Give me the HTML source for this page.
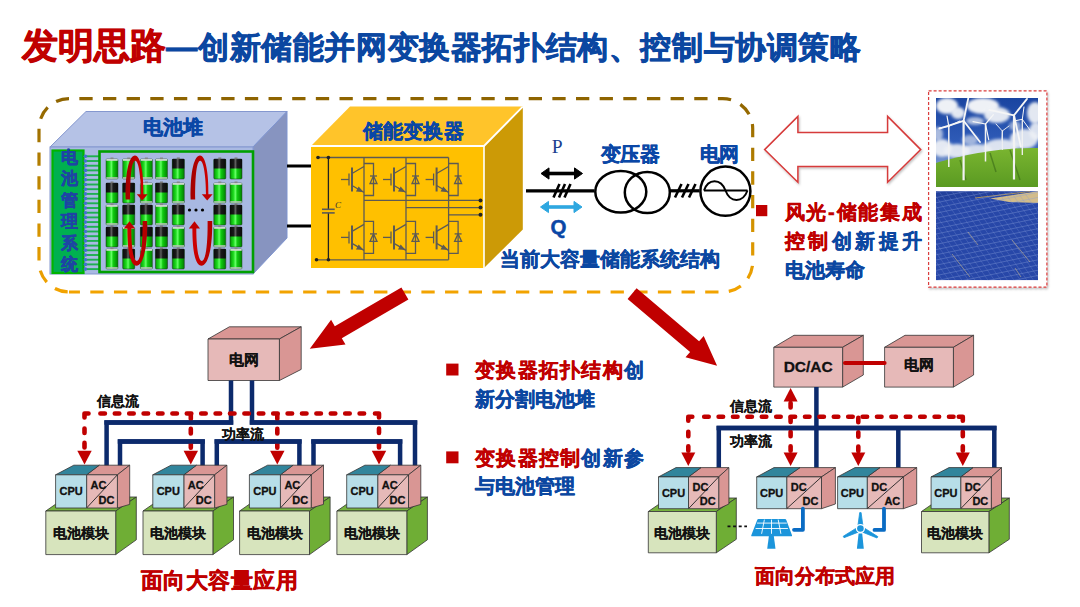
<!DOCTYPE html>
<html><head><meta charset="utf-8"><style>
html,body{margin:0;padding:0;background:#fff;width:1080px;height:607px;overflow:hidden}
svg{display:block;font-family:'Liberation Sans',sans-serif}
</style></head><body>
<svg width="1080" height="607" viewBox="0 0 1080 607">

<defs>
<linearGradient id="dashg" x1="0" y1="0" x2="0" y2="1">
 <stop offset="0" stop-color="#8E6400"/><stop offset="0.5" stop-color="#C48A00"/><stop offset="1" stop-color="#F2A300"/>
</linearGradient>
<linearGradient id="redg" x1="0" y1="0" x2="1" y2="0">
 <stop offset="0" stop-color="#A00000"/><stop offset="1" stop-color="#D00000"/>
</linearGradient>
<linearGradient id="redg2" x1="0" y1="0" x2="1" y2="0">
 <stop offset="0" stop-color="#D00000"/><stop offset="1" stop-color="#B00000"/>
</linearGradient>
<linearGradient id="cellgreen" x1="0" y1="0" x2="1" y2="0">
 <stop offset="0" stop-color="#009A00"/><stop offset="0.3" stop-color="#22DD22"/><stop offset="0.45" stop-color="#66FF66"/><stop offset="0.6" stop-color="#11CC11"/><stop offset="1" stop-color="#008000"/>
</linearGradient>
<linearGradient id="cellblack" x1="0" y1="0" x2="1" y2="0">
 <stop offset="0" stop-color="#0A0A0A"/><stop offset="0.3" stop-color="#1A1A1A"/><stop offset="0.45" stop-color="#606060"/><stop offset="0.6" stop-color="#1A1A1A"/><stop offset="1" stop-color="#0A0A0A"/>
</linearGradient>
<g id="cellG">
 <rect x="0" y="1" width="12" height="20" rx="1" fill="url(#cellgreen)" stroke="#2A4A2A" stroke-width="0.5"/>
 <rect x="0.3" y="1" width="11.4" height="1.8" fill="#D0D8D0"/>
 <rect x="0.3" y="19.2" width="11.4" height="1.6" fill="#B8C4B8"/>
 <rect x="4.5" y="-0.5" width="3" height="1.6" fill="#888"/>
</g>
<g id="cellB">
 <rect x="0" y="1" width="12" height="20" rx="1" fill="url(#cellgreen)" stroke="#1A2A1A" stroke-width="0.5"/>
 <rect x="0" y="1" width="12" height="9.5" fill="url(#cellblack)"/>
 <rect x="4.5" y="-0.5" width="3" height="1.6" fill="#777"/>
</g>
<linearGradient id="skyg" x1="0" y1="0" x2="0" y2="1">
 <stop offset="0" stop-color="#1A44A0"/><stop offset="0.5" stop-color="#2F5CB8"/><stop offset="0.8" stop-color="#8AA4D0"/><stop offset="1" stop-color="#C8D2E2"/>
</linearGradient>
<linearGradient id="grassg" x1="0" y1="0" x2="0" y2="1">
 <stop offset="0" stop-color="#7AB530"/><stop offset="1" stop-color="#5A9A22"/>
</linearGradient>
<clipPath id="clipw"><rect x="936" y="98" width="102" height="89"/></clipPath>
<clipPath id="clips"><rect x="936" y="191.3" width="102" height="89"/></clipPath>
<filter id="blur1" x="-50%" y="-50%" width="200%" height="200%"><feGaussianBlur stdDeviation="1.5"/></filter>
<filter id="blur2" x="-50%" y="-50%" width="200%" height="200%"><feGaussianBlur stdDeviation="2.5"/></filter>
<filter id="shadow" x="-10%" y="-10%" width="130%" height="130%"><feDropShadow dx="1" dy="1.5" stdDeviation="1" flood-color="#000" flood-opacity="0.25"/></filter>
</defs>

<text x="21.5" y="57.5" font-size="36" fill="#C00000" font-weight="bold" text-anchor="start" stroke="#C00000" stroke-width="0.86" stroke-linejoin="round" >发明思路</text>
<text x="166" y="57.5" font-size="31.4" fill="#0B47A1" font-weight="bold" text-anchor="start" stroke="#0B47A1" stroke-width="0.75" stroke-linejoin="round" textLength="695" lengthAdjust="spacing">—创新储能并网变换器拓扑结构、控制与协调策略</text>
<path d="M69,98.6 H722.7 A30,30 0 0 1 752.7,128.6 V262 A30,30 0 0 1 722.7,292 H69" fill="none" stroke="url(#dashg)" stroke-width="3.2" stroke-dasharray="13.3 10.35" stroke-dashoffset="13.3"/>
<path d="M69,98.6 A30,30 0 0 0 39,128.6 V262 A30,30 0 0 0 69,292" fill="none" stroke="url(#dashg)" stroke-width="3.2" stroke-dasharray="13.3 10.35" stroke-dashoffset="0"/>
<polygon points="50.0,147.0 86.0,111.5 287.0,111.5 253.0,147.0" fill="#B5C2E6" stroke="#8497CF" stroke-width="1" />
<polygon points="253.0,147.0 287.0,111.5 287.0,238.0 253.0,274.0" fill="#8794C0" stroke="#7F95D0" stroke-width="1" />
<rect x="50" y="147" width="203" height="127" fill="#A9B9E3" stroke="#8497CF" stroke-width="1"/>
<text x="143" y="134" font-size="20" fill="#0A47A6" font-weight="bold" text-anchor="start" stroke="#0A47A6" stroke-width="0.48" stroke-linejoin="round" >电池堆</text>
<rect x="52.5" y="150.5" width="31" height="122.5" fill="#00B050" stroke="#00B400" stroke-width="2.2"/>
<text x="69.3" y="163.0" font-size="17" fill="#1E44A4" font-weight="bold" text-anchor="middle" stroke="#1E44A4" stroke-width="0.55" stroke-linejoin="round" >电</text>
<text x="69.3" y="184.4" font-size="17" fill="#1E44A4" font-weight="bold" text-anchor="middle" stroke="#1E44A4" stroke-width="0.55" stroke-linejoin="round" >池</text>
<text x="69.3" y="205.8" font-size="17" fill="#1E44A4" font-weight="bold" text-anchor="middle" stroke="#1E44A4" stroke-width="0.55" stroke-linejoin="round" >管</text>
<text x="69.3" y="227.2" font-size="17" fill="#1E44A4" font-weight="bold" text-anchor="middle" stroke="#1E44A4" stroke-width="0.55" stroke-linejoin="round" >理</text>
<text x="69.3" y="248.6" font-size="17" fill="#1E44A4" font-weight="bold" text-anchor="middle" stroke="#1E44A4" stroke-width="0.55" stroke-linejoin="round" >系</text>
<text x="69.3" y="270.0" font-size="17" fill="#1E44A4" font-weight="bold" text-anchor="middle" stroke="#1E44A4" stroke-width="0.55" stroke-linejoin="round" >统</text>
<line x1="85.4" y1="156.3" x2="100.4" y2="156.3" stroke="#1DB050" stroke-width="1.9"/>
<circle cx="85.4" cy="156.3" r="1.8" fill="#4470D0"/>
<circle cx="100.4" cy="156.3" r="1.8" fill="#4470D0"/>
<line x1="85.4" y1="161.0" x2="100.4" y2="161.0" stroke="#1DB050" stroke-width="1.9"/>
<circle cx="85.4" cy="161.0" r="1.8" fill="#4470D0"/>
<circle cx="100.4" cy="161.0" r="1.8" fill="#4470D0"/>
<line x1="85.4" y1="165.7" x2="100.4" y2="165.7" stroke="#1DB050" stroke-width="1.9"/>
<circle cx="85.4" cy="165.7" r="1.8" fill="#4470D0"/>
<circle cx="100.4" cy="165.7" r="1.8" fill="#4470D0"/>
<line x1="85.4" y1="170.4" x2="100.4" y2="170.4" stroke="#1DB050" stroke-width="1.9"/>
<circle cx="85.4" cy="170.4" r="1.8" fill="#4470D0"/>
<circle cx="100.4" cy="170.4" r="1.8" fill="#4470D0"/>
<line x1="85.4" y1="175.1" x2="100.4" y2="175.1" stroke="#1DB050" stroke-width="1.9"/>
<circle cx="85.4" cy="175.1" r="1.8" fill="#4470D0"/>
<circle cx="100.4" cy="175.1" r="1.8" fill="#4470D0"/>
<line x1="85.4" y1="179.8" x2="100.4" y2="179.8" stroke="#1DB050" stroke-width="1.9"/>
<circle cx="85.4" cy="179.8" r="1.8" fill="#4470D0"/>
<circle cx="100.4" cy="179.8" r="1.8" fill="#4470D0"/>
<line x1="85.4" y1="184.5" x2="100.4" y2="184.5" stroke="#1DB050" stroke-width="1.9"/>
<circle cx="85.4" cy="184.5" r="1.8" fill="#4470D0"/>
<circle cx="100.4" cy="184.5" r="1.8" fill="#4470D0"/>
<line x1="85.4" y1="189.2" x2="100.4" y2="189.2" stroke="#1DB050" stroke-width="1.9"/>
<circle cx="85.4" cy="189.2" r="1.8" fill="#4470D0"/>
<circle cx="100.4" cy="189.2" r="1.8" fill="#4470D0"/>
<line x1="85.4" y1="193.9" x2="100.4" y2="193.9" stroke="#1DB050" stroke-width="1.9"/>
<circle cx="85.4" cy="193.9" r="1.8" fill="#4470D0"/>
<circle cx="100.4" cy="193.9" r="1.8" fill="#4470D0"/>
<line x1="85.4" y1="198.6" x2="100.4" y2="198.6" stroke="#1DB050" stroke-width="1.9"/>
<circle cx="85.4" cy="198.6" r="1.8" fill="#4470D0"/>
<circle cx="100.4" cy="198.6" r="1.8" fill="#4470D0"/>
<line x1="85.4" y1="203.3" x2="100.4" y2="203.3" stroke="#1DB050" stroke-width="1.9"/>
<circle cx="85.4" cy="203.3" r="1.8" fill="#4470D0"/>
<circle cx="100.4" cy="203.3" r="1.8" fill="#4470D0"/>
<line x1="85.4" y1="208.0" x2="100.4" y2="208.0" stroke="#1DB050" stroke-width="1.9"/>
<circle cx="85.4" cy="208.0" r="1.8" fill="#4470D0"/>
<circle cx="100.4" cy="208.0" r="1.8" fill="#4470D0"/>
<line x1="85.4" y1="212.7" x2="100.4" y2="212.7" stroke="#1DB050" stroke-width="1.9"/>
<circle cx="85.4" cy="212.7" r="1.8" fill="#4470D0"/>
<circle cx="100.4" cy="212.7" r="1.8" fill="#4470D0"/>
<line x1="85.4" y1="217.4" x2="100.4" y2="217.4" stroke="#1DB050" stroke-width="1.9"/>
<circle cx="85.4" cy="217.4" r="1.8" fill="#4470D0"/>
<circle cx="100.4" cy="217.4" r="1.8" fill="#4470D0"/>
<line x1="85.4" y1="222.1" x2="100.4" y2="222.1" stroke="#1DB050" stroke-width="1.9"/>
<circle cx="85.4" cy="222.1" r="1.8" fill="#4470D0"/>
<circle cx="100.4" cy="222.1" r="1.8" fill="#4470D0"/>
<line x1="85.4" y1="226.8" x2="100.4" y2="226.8" stroke="#1DB050" stroke-width="1.9"/>
<circle cx="85.4" cy="226.8" r="1.8" fill="#4470D0"/>
<circle cx="100.4" cy="226.8" r="1.8" fill="#4470D0"/>
<line x1="85.4" y1="231.5" x2="100.4" y2="231.5" stroke="#1DB050" stroke-width="1.9"/>
<circle cx="85.4" cy="231.5" r="1.8" fill="#4470D0"/>
<circle cx="100.4" cy="231.5" r="1.8" fill="#4470D0"/>
<line x1="85.4" y1="236.2" x2="100.4" y2="236.2" stroke="#1DB050" stroke-width="1.9"/>
<circle cx="85.4" cy="236.2" r="1.8" fill="#4470D0"/>
<circle cx="100.4" cy="236.2" r="1.8" fill="#4470D0"/>
<line x1="85.4" y1="240.9" x2="100.4" y2="240.9" stroke="#1DB050" stroke-width="1.9"/>
<circle cx="85.4" cy="240.9" r="1.8" fill="#4470D0"/>
<circle cx="100.4" cy="240.9" r="1.8" fill="#4470D0"/>
<line x1="85.4" y1="245.6" x2="100.4" y2="245.6" stroke="#1DB050" stroke-width="1.9"/>
<circle cx="85.4" cy="245.6" r="1.8" fill="#4470D0"/>
<circle cx="100.4" cy="245.6" r="1.8" fill="#4470D0"/>
<line x1="85.4" y1="250.3" x2="100.4" y2="250.3" stroke="#1DB050" stroke-width="1.9"/>
<circle cx="85.4" cy="250.3" r="1.8" fill="#4470D0"/>
<circle cx="100.4" cy="250.3" r="1.8" fill="#4470D0"/>
<line x1="85.4" y1="255.0" x2="100.4" y2="255.0" stroke="#1DB050" stroke-width="1.9"/>
<circle cx="85.4" cy="255.0" r="1.8" fill="#4470D0"/>
<circle cx="100.4" cy="255.0" r="1.8" fill="#4470D0"/>
<line x1="85.4" y1="259.7" x2="100.4" y2="259.7" stroke="#1DB050" stroke-width="1.9"/>
<circle cx="85.4" cy="259.7" r="1.8" fill="#4470D0"/>
<circle cx="100.4" cy="259.7" r="1.8" fill="#4470D0"/>
<line x1="85.4" y1="264.4" x2="100.4" y2="264.4" stroke="#1DB050" stroke-width="1.9"/>
<circle cx="85.4" cy="264.4" r="1.8" fill="#4470D0"/>
<circle cx="100.4" cy="264.4" r="1.8" fill="#4470D0"/>
<line x1="85.4" y1="269.1" x2="100.4" y2="269.1" stroke="#1DB050" stroke-width="1.9"/>
<circle cx="85.4" cy="269.1" r="1.8" fill="#4470D0"/>
<circle cx="100.4" cy="269.1" r="1.8" fill="#4470D0"/>
<rect x="99.5" y="151.5" width="153.5" height="120.5" fill="#A8B8E2" stroke="#00A000" stroke-width="2.6"/>
<use href="#cellG" x="106" y="158"/>
<use href="#cellG" x="122.7" y="158"/>
<use href="#cellG" x="140.4" y="158"/>
<use href="#cellG" x="155.5" y="158"/>
<use href="#cellB" x="172.3" y="158"/>
<use href="#cellB" x="213.8" y="158"/>
<use href="#cellB" x="230" y="158"/>
<use href="#cellB" x="106" y="182"/>
<use href="#cellB" x="122.7" y="182"/>
<use href="#cellG" x="140.4" y="182"/>
<use href="#cellB" x="155.5" y="182"/>
<use href="#cellG" x="172.3" y="182"/>
<use href="#cellG" x="213.8" y="182"/>
<use href="#cellG" x="230" y="182"/>
<use href="#cellG" x="106" y="204"/>
<use href="#cellB" x="122.7" y="204"/>
<use href="#cellB" x="140.4" y="204"/>
<use href="#cellG" x="155.5" y="204"/>
<use href="#cellB" x="172.3" y="204"/>
<use href="#cellB" x="213.8" y="204"/>
<use href="#cellB" x="230" y="204"/>
<use href="#cellB" x="106" y="226"/>
<use href="#cellG" x="122.7" y="226"/>
<use href="#cellB" x="140.4" y="226"/>
<use href="#cellB" x="155.5" y="226"/>
<use href="#cellG" x="172.3" y="226"/>
<use href="#cellG" x="213.8" y="226"/>
<use href="#cellB" x="230" y="226"/>
<use href="#cellG" x="106" y="248"/>
<use href="#cellB" x="122.7" y="248"/>
<use href="#cellG" x="140.4" y="248"/>
<use href="#cellB" x="155.5" y="248"/>
<use href="#cellB" x="172.3" y="248"/>
<use href="#cellB" x="213.8" y="248"/>
<use href="#cellG" x="230" y="248"/>
<circle cx="189.5" cy="210" r="1.6" fill="#000"/>
<circle cx="196" cy="210" r="1.6" fill="#000"/>
<circle cx="202.5" cy="210" r="1.6" fill="#000"/>
<path transform="translate(0.0,0)" d="M125.6,199.5 C125.2,170 129.5,155.5 135,155.5 C140.5,155.5 143.8,172 143.4,195 L141,195 C141,176 138.5,160.8 135.3,160.8 C132,160.8 130,174 130.2,199.5 Z" fill="url(#redg)"/>
<polygon transform="translate(0.0,0)" points="136.8,194.3 147.6,194.3 142.2,200.5" fill="#C00000"/>
<path transform="translate(0.0,0)" d="M147.2,221 C147.6,250 142.5,265.8 136.5,265.8 C130.5,265.8 127.3,252 127.4,228 L131.3,228 C131.3,248 133.5,261 136.8,261 C140.2,261 142.8,248 142.6,221 Z" fill="url(#redg2)"/>
<polygon transform="translate(0.0,0)" points="123.8,228.5 135,228.5 129.5,221.2" fill="#C00000"/>
<path transform="translate(65.0,0)" d="M125.6,199.5 C125.2,170 129.5,155.5 135,155.5 C140.5,155.5 143.8,172 143.4,195 L141,195 C141,176 138.5,160.8 135.3,160.8 C132,160.8 130,174 130.2,199.5 Z" fill="url(#redg)"/>
<polygon transform="translate(65.0,0)" points="136.8,194.3 147.6,194.3 142.2,200.5" fill="#C00000"/>
<path transform="translate(65.0,0)" d="M147.2,221 C147.6,250 142.5,265.8 136.5,265.8 C130.5,265.8 127.3,252 127.4,228 L131.3,228 C131.3,248 133.5,261 136.8,261 C140.2,261 142.8,248 142.6,221 Z" fill="url(#redg2)"/>
<polygon transform="translate(65.0,0)" points="123.8,228.5 135,228.5 129.5,221.2" fill="#C00000"/>
<line x1="287" y1="166" x2="311" y2="166" stroke="#000" stroke-width="3"/>
<line x1="287" y1="226" x2="311" y2="226" stroke="#000" stroke-width="3"/>
<polygon points="311.0,146.0 350.0,106.6 522.8,106.6 484.0,146.0" fill="#FFC42A" stroke="none" stroke-width="1" />
<polygon points="484.0,146.0 522.8,106.6 522.8,229.5 484.0,268.0" fill="#CC9A06" stroke="none" stroke-width="1" />
<rect x="311" y="146" width="173" height="122" fill="#FFC000"/>
<polyline points="311,146 484,146 522.8,106.6" fill="none" stroke="#FFFFFF" stroke-width="1.8"/>
<line x1="484" y1="146" x2="484" y2="268" stroke="#FFFFFF" stroke-width="1.6"/>
<text x="362.5" y="137.5" font-size="20" fill="#0A47A6" font-weight="bold" text-anchor="start" stroke="#0A47A6" stroke-width="0.48" stroke-linejoin="round" textLength="101" lengthAdjust="spacing">储能变换器</text>
<g stroke="#5C5A55" stroke-width="1.3" fill="none">
<line x1="318" y1="157.5" x2="448.6" y2="157.5"/>
<line x1="316.5" y1="259.8" x2="448.6" y2="259.8"/>
<line x1="328.4" y1="157.5" x2="328.4" y2="209.3" stroke="#222"/>
<line x1="328.4" y1="212.9" x2="328.4" y2="259.8" stroke="#222"/>
<line x1="322" y1="209.3" x2="334.7" y2="209.3" stroke-width="1.6"/>
<line x1="322" y1="212.9" x2="334.7" y2="212.9" stroke-width="1.6"/>
<line x1="364" y1="157.5" x2="364" y2="259.8"/>
<line x1="364" y1="200.4" x2="480.5" y2="200.4"/>
<line x1="352" y1="167.5" x2="352" y2="191.5" stroke-width="2"/>
<line x1="341" y1="179.5" x2="349" y2="179.5"/>
<line x1="349" y1="173.5" x2="349" y2="185.5"/>
<line x1="352" y1="173.5" x2="364" y2="166.5"/>
<line x1="352" y1="185.5" x2="364" y2="192.5"/>
<polygon points="362,191.3 357,191.0 358.8,187.7" fill="#5C5A55"/>
<polyline points="364,163.5 373.5,163.5 373.5,195.5 364,195.5"/>
<polygon points="370.0,183.5 377.0,183.5 373.5,176.0"/>
<line x1="370.0" y1="176.0" x2="377.0" y2="176.0"/>
<line x1="352" y1="225.4" x2="352" y2="249.4" stroke-width="2"/>
<line x1="341" y1="237.4" x2="349" y2="237.4"/>
<line x1="349" y1="231.4" x2="349" y2="243.4"/>
<line x1="352" y1="231.4" x2="364" y2="224.4"/>
<line x1="352" y1="243.4" x2="364" y2="250.4"/>
<polygon points="362,249.20000000000002 357,248.9 358.8,245.6" fill="#5C5A55"/>
<polyline points="364,221.4 373.5,221.4 373.5,253.4 364,253.4"/>
<polygon points="370.0,241.4 377.0,241.4 373.5,233.9"/>
<line x1="370.0" y1="233.9" x2="377.0" y2="233.9"/>
<line x1="406" y1="157.5" x2="406" y2="259.8"/>
<line x1="406" y1="207.6" x2="480.5" y2="207.6"/>
<line x1="394" y1="167.5" x2="394" y2="191.5" stroke-width="2"/>
<line x1="383" y1="179.5" x2="391" y2="179.5"/>
<line x1="391" y1="173.5" x2="391" y2="185.5"/>
<line x1="394" y1="173.5" x2="406" y2="166.5"/>
<line x1="394" y1="185.5" x2="406" y2="192.5"/>
<polygon points="404,191.3 399,191.0 400.8,187.7" fill="#5C5A55"/>
<polyline points="406,163.5 415.5,163.5 415.5,195.5 406,195.5"/>
<polygon points="412.0,183.5 419.0,183.5 415.5,176.0"/>
<line x1="412.0" y1="176.0" x2="419.0" y2="176.0"/>
<line x1="394" y1="225.4" x2="394" y2="249.4" stroke-width="2"/>
<line x1="383" y1="237.4" x2="391" y2="237.4"/>
<line x1="391" y1="231.4" x2="391" y2="243.4"/>
<line x1="394" y1="231.4" x2="406" y2="224.4"/>
<line x1="394" y1="243.4" x2="406" y2="250.4"/>
<polygon points="404,249.20000000000002 399,248.9 400.8,245.6" fill="#5C5A55"/>
<polyline points="406,221.4 415.5,221.4 415.5,253.4 406,253.4"/>
<polygon points="412.0,241.4 419.0,241.4 415.5,233.9"/>
<line x1="412.0" y1="233.9" x2="419.0" y2="233.9"/>
<line x1="448.6" y1="157.5" x2="448.6" y2="259.8"/>
<line x1="448.6" y1="214.8" x2="480.5" y2="214.8"/>
<line x1="436.6" y1="167.5" x2="436.6" y2="191.5" stroke-width="2"/>
<line x1="425.6" y1="179.5" x2="433.6" y2="179.5"/>
<line x1="433.6" y1="173.5" x2="433.6" y2="185.5"/>
<line x1="436.6" y1="173.5" x2="448.6" y2="166.5"/>
<line x1="436.6" y1="185.5" x2="448.6" y2="192.5"/>
<polygon points="446.6,191.3 441.6,191.0 443.40000000000003,187.7" fill="#5C5A55"/>
<polyline points="448.6,163.5 458.1,163.5 458.1,195.5 448.6,195.5"/>
<polygon points="454.6,183.5 461.6,183.5 458.1,176.0"/>
<line x1="454.6" y1="176.0" x2="461.6" y2="176.0"/>
<line x1="436.6" y1="225.4" x2="436.6" y2="249.4" stroke-width="2"/>
<line x1="425.6" y1="237.4" x2="433.6" y2="237.4"/>
<line x1="433.6" y1="231.4" x2="433.6" y2="243.4"/>
<line x1="436.6" y1="231.4" x2="448.6" y2="224.4"/>
<line x1="436.6" y1="243.4" x2="448.6" y2="250.4"/>
<polygon points="446.6,249.20000000000002 441.6,248.9 443.40000000000003,245.6" fill="#5C5A55"/>
<polyline points="448.6,221.4 458.1,221.4 458.1,253.4 448.6,253.4"/>
<polygon points="454.6,241.4 461.6,241.4 458.1,233.9"/>
<line x1="454.6" y1="233.9" x2="461.6" y2="233.9"/>
</g>
<circle cx="318" cy="157.5" r="1.8" fill="#222"/>
<circle cx="316.5" cy="259.8" r="1.8" fill="#222"/>
<circle cx="328.4" cy="157.5" r="1.8" fill="#222"/>
<circle cx="328.4" cy="259.8" r="1.8" fill="#222"/>
<circle cx="480.5" cy="200.4" r="2" fill="#222"/>
<circle cx="480.5" cy="207.6" r="2" fill="#222"/>
<circle cx="480.5" cy="214.8" r="2" fill="#222"/>
<text x="335" y="207.5" font-size="9" font-style="italic" fill="#333" font-family="Liberation Serif,serif">C</text>
<line x1="526" y1="190.8" x2="594.5" y2="190.8" stroke="#000" stroke-width="3.2"/>
<line x1="553.5" y1="197.5" x2="559.5" y2="184" stroke="#000" stroke-width="2.6"/>
<line x1="559.0" y1="197.5" x2="565.0" y2="184" stroke="#000" stroke-width="2.6"/>
<line x1="564.5" y1="197.5" x2="570.5" y2="184" stroke="#000" stroke-width="2.6"/>
<text x="551.8" y="152.6" font-size="19.5" fill="#203F8F" font-family="Liberation Serif,serif">P</text>
<text x="550.5" y="233.5" font-size="20.5" fill="#0A47A6" font-weight="bold" text-anchor="start" stroke="#0A47A6" stroke-width="0.50" stroke-linejoin="round" >Q</text>
<line x1="547" y1="173.5" x2="576.5" y2="173.5" stroke="#000" stroke-width="3.6"/><polygon points="541.0,173.5 549.0,167.9 549.0,179.1" fill="#000" stroke="#000" stroke-width="1" stroke-linejoin="round"/><polygon points="582.5,173.5 574.5,167.9 574.5,179.1" fill="#000" stroke="#000" stroke-width="1" stroke-linejoin="round"/>
<line x1="546.5" y1="207" x2="576" y2="207" stroke="#2EA7E0" stroke-width="3.6"/><polygon points="540.5,207.0 548.5,201.4 548.5,212.6" fill="#2EA7E0" stroke="#2EA7E0" stroke-width="1" stroke-linejoin="round"/><polygon points="582.0,207.0 574.0,201.4 574.0,212.6" fill="#2EA7E0" stroke="#2EA7E0" stroke-width="1" stroke-linejoin="round"/>
<ellipse cx="620.8" cy="191.7" rx="25.5" ry="20.8" fill="none" stroke="#000" stroke-width="2.5"/>
<ellipse cx="647.3" cy="192.5" rx="22.5" ry="20.6" fill="none" stroke="#000" stroke-width="2.5"/>
<line x1="670" y1="190.8" x2="699.5" y2="190.8" stroke="#000" stroke-width="3.2"/>
<line x1="675" y1="197.5" x2="681.5" y2="184" stroke="#000" stroke-width="2.6"/>
<line x1="682" y1="197.5" x2="688.5" y2="184" stroke="#000" stroke-width="2.6"/>
<line x1="689" y1="197.5" x2="695.5" y2="184" stroke="#000" stroke-width="2.6"/>
<ellipse cx="725.4" cy="191.2" rx="25" ry="24.6" fill="none" stroke="#000" stroke-width="2.5"/>
<line x1="704" y1="190.5" x2="747.5" y2="190.5" stroke="#000" stroke-width="2"/>
<path d="M704,190.5 C708,178 721,178 725.5,190.5 C730,203 743,203 747.5,190.5" fill="none" stroke="#000" stroke-width="2"/>
<text x="500" y="266" font-size="20" fill="#0B47A1" font-weight="bold" text-anchor="start" stroke="#0B47A1" stroke-width="0.48" stroke-linejoin="round" >当前大容量储能系统结构</text>
<text x="600.5" y="161" font-size="20" fill="#0A47A6" font-weight="bold" text-anchor="start" stroke="#0A47A6" stroke-width="0.48" stroke-linejoin="round" textLength="59.5" lengthAdjust="spacing">变压器</text>
<text x="699.5" y="161" font-size="20" fill="#0A47A6" font-weight="bold" text-anchor="start" stroke="#0A47A6" stroke-width="0.48" stroke-linejoin="round" textLength="39.5" lengthAdjust="spacing">电网</text>
<g filter="url(#shadow)">
<polygon points="764.6,149.6 797.9,116.4 797.9,132.5 887.6,132.5 887.6,116.4 920.7,149.6 887.6,182.3 887.6,166.5 797.9,166.5 797.9,182.3" fill="#fff" stroke="#D63A3A" stroke-width="1.5" />
</g>
<rect x="756" y="205" width="11.3" height="11.2" fill="#C00000"/>
<text x="784.5" y="218.5" font-size="20" fill="#C00000" font-weight="bold" text-anchor="start" stroke="#C00000" stroke-width="0.48" stroke-linejoin="round" textLength="137.5" lengthAdjust="spacing">风光-储能集成</text>
<text x="784.5" y="248" font-size="20" font-weight="bold" stroke-width="0.48" stroke-linejoin="round" textLength="137.5" lengthAdjust="spacing"><tspan fill="#C00000" stroke="#C00000">控制</tspan><tspan fill="#0B47A1" stroke="#0B47A1">创新提升</tspan></text>
<text x="784.5" y="277" font-size="20" fill="#0B47A1" font-weight="bold" text-anchor="start" stroke="#0B47A1" stroke-width="0.48" stroke-linejoin="round" >电池寿命</text>
<rect x="928.6" y="90.9" width="118.3" height="196.3" fill="#fff" stroke="#DC3C3C" stroke-width="1.2" stroke-dasharray="3 2" filter="url(#shadow)"/>
<g clip-path="url(#clipw)">
<rect x="936" y="98" width="102" height="89" fill="url(#skyg)"/>
<ellipse cx="947" cy="106" rx="11" ry="8" fill="#EEF1F6" opacity="1" filter="url(#blur1)"/>
<ellipse cx="958" cy="113" rx="7" ry="6" fill="#EEF1F6" opacity="0.95" filter="url(#blur1)"/>
<ellipse cx="983" cy="106" rx="16" ry="8" fill="#EEF1F6" opacity="1" filter="url(#blur1)"/>
<ellipse cx="997" cy="115" rx="13" ry="8" fill="#EEF1F6" opacity="0.95" filter="url(#blur1)"/>
<ellipse cx="975" cy="121" rx="9" ry="4" fill="#EEF1F6" opacity="0.7" filter="url(#blur1)"/>
<ellipse cx="1035" cy="113" rx="8" ry="11" fill="#EEF1F6" opacity="0.95" filter="url(#blur1)"/>
<ellipse cx="1036" cy="131" rx="7" ry="9" fill="#EEF1F6" opacity="0.9" filter="url(#blur1)"/>
<ellipse cx="942" cy="148" rx="10" ry="9" fill="#EEF1F6" opacity="0.95" filter="url(#blur1)"/>
<ellipse cx="957" cy="151" rx="13" ry="7" fill="#EEF1F6" opacity="0.9" filter="url(#blur1)"/>
<ellipse cx="977" cy="151" rx="15" ry="7" fill="#EEF1F6" opacity="0.85" filter="url(#blur1)"/>
<ellipse cx="1001" cy="147" rx="17" ry="8" fill="#EEF1F6" opacity="0.9" filter="url(#blur1)"/>
<ellipse cx="1024" cy="139" rx="14" ry="10" fill="#EEF1F6" opacity="0.9" filter="url(#blur1)"/>
<ellipse cx="1015" cy="126" rx="6" ry="5" fill="#EEF1F6" opacity="0.55" filter="url(#blur1)"/>
<ellipse cx="938" cy="134" rx="5" ry="7" fill="#EEF1F6" opacity="0.65" filter="url(#blur1)"/>
<ellipse cx="970" cy="140" rx="8" ry="5" fill="#EEF1F6" opacity="0.6" filter="url(#blur1)"/>
<path d="M936,163 C960,156 1000,147 1038,148 L1038,187 L936,187 Z" fill="url(#grassg)"/>
<line x1="960" y1="160" x2="966" y2="180" stroke="#3A6A18" stroke-width="1.5" opacity="0.6"/>
<line x1="990" y1="153" x2="996" y2="172" stroke="#3A6A18" stroke-width="1.5" opacity="0.6"/>
<line x1="1010" y1="150" x2="1020" y2="180" stroke="#3A6A18" stroke-width="1.5" opacity="0.6"/>
<line x1="1002.3" y1="131" x2="1002.3" y2="150" stroke="#F2F2F2" stroke-width="1.0"/><line x1="1002.3" y1="131" x2="996" y2="124" stroke="#F6F6F6" stroke-width="0.9" stroke-linecap="round"/><line x1="1002.3" y1="131" x2="1009" y2="126" stroke="#F6F6F6" stroke-width="0.9" stroke-linecap="round"/><line x1="1002.3" y1="131" x2="1002" y2="140" stroke="#F6F6F6" stroke-width="0.9" stroke-linecap="round"/>
<line x1="1022.3" y1="119.3" x2="1022.3" y2="155" stroke="#F2F2F2" stroke-width="1.3"/><line x1="1022.3" y1="119.3" x2="1024" y2="107" stroke="#F6F6F6" stroke-width="1" stroke-linecap="round"/><line x1="1022.3" y1="119.3" x2="1014" y2="121" stroke="#F6F6F6" stroke-width="1" stroke-linecap="round"/><line x1="1022.3" y1="119.3" x2="1030" y2="130" stroke="#F6F6F6" stroke-width="1" stroke-linecap="round"/>
<line x1="948.8" y1="126.3" x2="948.8" y2="167" stroke="#F2F2F2" stroke-width="1.5"/><line x1="948.8" y1="126.3" x2="939" y2="128" stroke="#F6F6F6" stroke-width="1.2" stroke-linecap="round"/><line x1="948.8" y1="126.3" x2="960" y2="121" stroke="#F6F6F6" stroke-width="1.2" stroke-linecap="round"/><line x1="948.8" y1="126.3" x2="947" y2="116" stroke="#F6F6F6" stroke-width="1.2" stroke-linecap="round"/>
<line x1="985.5" y1="124" x2="985.5" y2="161.5" stroke="#F2F2F2" stroke-width="1.5"/><line x1="985.5" y1="124" x2="993.4" y2="114.6" stroke="#F6F6F6" stroke-width="1.2" stroke-linecap="round"/><line x1="985.5" y1="124" x2="973" y2="121.6" stroke="#F6F6F6" stroke-width="1.2" stroke-linecap="round"/><line x1="985.5" y1="124" x2="988.7" y2="139.6" stroke="#F6F6F6" stroke-width="1.2" stroke-linecap="round"/>
<line x1="963.6" y1="120.8" x2="963.6" y2="180.3" stroke="#F2F2F2" stroke-width="2.2"/><line x1="963.6" y1="120.8" x2="968.3" y2="98.1" stroke="#F6F6F6" stroke-width="1.8" stroke-linecap="round"/><line x1="963.6" y1="120.8" x2="939.4" y2="128.6" stroke="#F6F6F6" stroke-width="1.8" stroke-linecap="round"/><line x1="963.6" y1="120.8" x2="980" y2="142" stroke="#F6F6F6" stroke-width="1.8" stroke-linecap="round"/>
<line x1="1014" y1="115.3" x2="1014" y2="179.5" stroke="#F2F2F2" stroke-width="2.2"/><line x1="1014" y1="115.3" x2="1027" y2="98.9" stroke="#F6F6F6" stroke-width="1.8" stroke-linecap="round"/><line x1="1014" y1="115.3" x2="989.5" y2="109.9" stroke="#F6F6F6" stroke-width="1.8" stroke-linecap="round"/><line x1="1014" y1="115.3" x2="1020.8" y2="146.6" stroke="#F6F6F6" stroke-width="1.8" stroke-linecap="round"/>
</g>
<g clip-path="url(#clips)">
<rect x="936" y="191.3" width="102" height="89" fill="#2747A8"/>
<polygon points="990,198.5 1038,191.3 1038,203 1009,202" fill="#D2BC8A"/>
<polygon points="936,191.3 1038,191.3 979,197.5 936,200" fill="#22409C"/>
<line x1="975" y1="198" x2="1030" y2="191.5" stroke="#A89060" stroke-width="1"/>
<line x1="936" y1="187.2" x2="1038" y2="166.2" stroke="#8AA0DA" stroke-width="0.7" opacity="0.55"/>
<line x1="936" y1="192.4" x2="1038" y2="171.4" stroke="#8AA0DA" stroke-width="0.7" opacity="0.55"/>
<line x1="936" y1="197.6" x2="1038" y2="176.6" stroke="#8AA0DA" stroke-width="0.7" opacity="0.55"/>
<line x1="936" y1="202.8" x2="1038" y2="181.8" stroke="#8AA0DA" stroke-width="0.7" opacity="0.55"/>
<line x1="936" y1="208.0" x2="1038" y2="187.0" stroke="#8AA0DA" stroke-width="0.7" opacity="0.55"/>
<line x1="936" y1="213.2" x2="1038" y2="192.2" stroke="#8AA0DA" stroke-width="0.7" opacity="0.55"/>
<line x1="936" y1="218.4" x2="1038" y2="197.4" stroke="#8AA0DA" stroke-width="0.7" opacity="0.55"/>
<line x1="936" y1="223.6" x2="1038" y2="202.6" stroke="#8AA0DA" stroke-width="0.7" opacity="0.55"/>
<line x1="936" y1="228.8" x2="1038" y2="207.8" stroke="#8AA0DA" stroke-width="0.7" opacity="0.55"/>
<line x1="936" y1="234.0" x2="1038" y2="213.0" stroke="#8AA0DA" stroke-width="0.7" opacity="0.55"/>
<line x1="936" y1="239.2" x2="1038" y2="218.2" stroke="#8AA0DA" stroke-width="0.7" opacity="0.55"/>
<line x1="936" y1="244.4" x2="1038" y2="223.4" stroke="#8AA0DA" stroke-width="0.7" opacity="0.55"/>
<line x1="936" y1="249.6" x2="1038" y2="228.6" stroke="#8AA0DA" stroke-width="0.7" opacity="0.55"/>
<line x1="936" y1="254.8" x2="1038" y2="233.8" stroke="#8AA0DA" stroke-width="0.7" opacity="0.55"/>
<line x1="936" y1="260.0" x2="1038" y2="239.0" stroke="#8AA0DA" stroke-width="0.7" opacity="0.55"/>
<line x1="936" y1="265.2" x2="1038" y2="244.2" stroke="#8AA0DA" stroke-width="0.7" opacity="0.55"/>
<line x1="936" y1="270.4" x2="1038" y2="249.4" stroke="#8AA0DA" stroke-width="0.7" opacity="0.55"/>
<line x1="936" y1="275.6" x2="1038" y2="254.6" stroke="#8AA0DA" stroke-width="0.7" opacity="0.55"/>
<line x1="936" y1="280.8" x2="1038" y2="259.8" stroke="#8AA0DA" stroke-width="0.7" opacity="0.55"/>
<line x1="936" y1="286.0" x2="1038" y2="265.0" stroke="#8AA0DA" stroke-width="0.7" opacity="0.55"/>
<line x1="936" y1="291.2" x2="1038" y2="270.2" stroke="#8AA0DA" stroke-width="0.7" opacity="0.55"/>
<line x1="936" y1="296.4" x2="1038" y2="275.4" stroke="#8AA0DA" stroke-width="0.7" opacity="0.55"/>
<line x1="936" y1="301.6" x2="1038" y2="280.6" stroke="#8AA0DA" stroke-width="0.7" opacity="0.55"/>
<line x1="936" y1="306.8" x2="1038" y2="285.8" stroke="#8AA0DA" stroke-width="0.7" opacity="0.55"/>
<line x1="936" y1="312.0" x2="1038" y2="291.0" stroke="#8AA0DA" stroke-width="0.7" opacity="0.55"/>
<line x1="936" y1="317.2" x2="1038" y2="296.2" stroke="#8AA0DA" stroke-width="0.7" opacity="0.55"/>
<line x1="822.0" y1="191.3" x2="884.0" y2="280.3" stroke="#7F96D6" stroke-width="0.6" opacity="0.45"/>
<line x1="828.5" y1="191.3" x2="890.5" y2="280.3" stroke="#7F96D6" stroke-width="0.6" opacity="0.45"/>
<line x1="835.0" y1="191.3" x2="897.0" y2="280.3" stroke="#7F96D6" stroke-width="0.6" opacity="0.45"/>
<line x1="841.5" y1="191.3" x2="903.5" y2="280.3" stroke="#7F96D6" stroke-width="0.6" opacity="0.45"/>
<line x1="848.0" y1="191.3" x2="910.0" y2="280.3" stroke="#7F96D6" stroke-width="0.6" opacity="0.45"/>
<line x1="854.5" y1="191.3" x2="916.5" y2="280.3" stroke="#7F96D6" stroke-width="0.6" opacity="0.45"/>
<line x1="861.0" y1="191.3" x2="923.0" y2="280.3" stroke="#7F96D6" stroke-width="0.6" opacity="0.45"/>
<line x1="867.5" y1="191.3" x2="929.5" y2="280.3" stroke="#7F96D6" stroke-width="0.6" opacity="0.45"/>
<line x1="874.0" y1="191.3" x2="936.0" y2="280.3" stroke="#7F96D6" stroke-width="0.6" opacity="0.45"/>
<line x1="880.5" y1="191.3" x2="942.5" y2="280.3" stroke="#7F96D6" stroke-width="0.6" opacity="0.45"/>
<line x1="887.0" y1="191.3" x2="949.0" y2="280.3" stroke="#7F96D6" stroke-width="0.6" opacity="0.45"/>
<line x1="893.5" y1="191.3" x2="955.5" y2="280.3" stroke="#7F96D6" stroke-width="0.6" opacity="0.45"/>
<line x1="900.0" y1="191.3" x2="962.0" y2="280.3" stroke="#7F96D6" stroke-width="0.6" opacity="0.45"/>
<line x1="906.5" y1="191.3" x2="968.5" y2="280.3" stroke="#7F96D6" stroke-width="0.6" opacity="0.45"/>
<line x1="913.0" y1="191.3" x2="975.0" y2="280.3" stroke="#7F96D6" stroke-width="0.6" opacity="0.45"/>
<line x1="919.5" y1="191.3" x2="981.5" y2="280.3" stroke="#7F96D6" stroke-width="0.6" opacity="0.45"/>
<line x1="926.0" y1="191.3" x2="988.0" y2="280.3" stroke="#7F96D6" stroke-width="0.6" opacity="0.45"/>
<line x1="932.5" y1="191.3" x2="994.5" y2="280.3" stroke="#7F96D6" stroke-width="0.6" opacity="0.45"/>
<line x1="939.0" y1="191.3" x2="1001.0" y2="280.3" stroke="#7F96D6" stroke-width="0.6" opacity="0.45"/>
<line x1="945.5" y1="191.3" x2="1007.5" y2="280.3" stroke="#7F96D6" stroke-width="0.6" opacity="0.45"/>
<line x1="952.0" y1="191.3" x2="1014.0" y2="280.3" stroke="#7F96D6" stroke-width="0.6" opacity="0.45"/>
<line x1="958.5" y1="191.3" x2="1020.5" y2="280.3" stroke="#7F96D6" stroke-width="0.6" opacity="0.45"/>
<line x1="965.0" y1="191.3" x2="1027.0" y2="280.3" stroke="#7F96D6" stroke-width="0.6" opacity="0.45"/>
<line x1="971.5" y1="191.3" x2="1033.5" y2="280.3" stroke="#7F96D6" stroke-width="0.6" opacity="0.45"/>
<line x1="978.0" y1="191.3" x2="1040.0" y2="280.3" stroke="#7F96D6" stroke-width="0.6" opacity="0.45"/>
<line x1="984.5" y1="191.3" x2="1046.5" y2="280.3" stroke="#7F96D6" stroke-width="0.6" opacity="0.45"/>
<line x1="991.0" y1="191.3" x2="1053.0" y2="280.3" stroke="#7F96D6" stroke-width="0.6" opacity="0.45"/>
<line x1="997.5" y1="191.3" x2="1059.5" y2="280.3" stroke="#7F96D6" stroke-width="0.6" opacity="0.45"/>
<line x1="1004.0" y1="191.3" x2="1066.0" y2="280.3" stroke="#7F96D6" stroke-width="0.6" opacity="0.45"/>
<line x1="1010.5" y1="191.3" x2="1072.5" y2="280.3" stroke="#7F96D6" stroke-width="0.6" opacity="0.45"/>
<line x1="1017.0" y1="191.3" x2="1079.0" y2="280.3" stroke="#7F96D6" stroke-width="0.6" opacity="0.45"/>
<line x1="1023.5" y1="191.3" x2="1085.5" y2="280.3" stroke="#7F96D6" stroke-width="0.6" opacity="0.45"/>
<line x1="952" y1="254" x2="970" y2="277" stroke="#C0B090" stroke-width="0.9" opacity="0.7"/>
<line x1="968" y1="232" x2="978" y2="245" stroke="#C0B090" stroke-width="0.9" opacity="0.7"/>
<line x1="1012" y1="240" x2="1030" y2="262" stroke="#C0B090" stroke-width="0.9" opacity="0.7"/>
<line x1="1015" y1="268" x2="1021" y2="277" stroke="#C0B090" stroke-width="0.9" opacity="0.7"/>
</g>
<polygon points="401.4,287.4 334.8,326.2 331.1,319.8 309.8,348.8 345.5,344.6 341.8,338.3 408.4,299.6" fill="#C00000" stroke="none" stroke-width="1" />
<polygon points="627.6,298.9 690.1,352.0 685.5,357.3 717.1,365.7 703.7,335.9 699.1,341.3 636.6,288.3" fill="#C00000" stroke="none" stroke-width="1" />
<rect x="446.2" y="363.6" width="12.3" height="11.9" fill="#C00000"/>
<text x="475" y="377" font-size="20" font-weight="bold" stroke-width="0.48" stroke-linejoin="round" textLength="169" lengthAdjust="spacing"><tspan fill="#C00000" stroke="#C00000">变换器拓扑结构</tspan><tspan fill="#0B47A1" stroke="#0B47A1">创</tspan></text>
<text x="475" y="406" font-size="20" fill="#0B47A1" font-weight="bold" text-anchor="start" stroke="#0B47A1" stroke-width="0.48" stroke-linejoin="round" >新分割电池堆</text>
<rect x="446.2" y="451.4" width="12.3" height="11.9" fill="#C00000"/>
<text x="475" y="464.5" font-size="20" font-weight="bold" stroke-width="0.48" stroke-linejoin="round" textLength="169" lengthAdjust="spacing"><tspan fill="#C00000" stroke="#C00000">变换器控制</tspan><tspan fill="#0B47A1" stroke="#0B47A1">创新参</tspan></text>
<text x="475" y="492.5" font-size="20" fill="#0B47A1" font-weight="bold" text-anchor="start" stroke="#0B47A1" stroke-width="0.48" stroke-linejoin="round" >与电池管理</text>
<polygon points="208.0,339.0 229.4,326.8 301.2,326.8 279.4,339.0" fill="#D99694" stroke="#333333" stroke-width="0.8" /><polygon points="279.4,339.0 301.2,326.8 301.2,369.4 279.4,380.5" fill="#D99694" stroke="#333333" stroke-width="0.8" /><polygon points="208.0,339.0 279.4,339.0 279.4,380.5 208.0,380.5" fill="#E6B9B8" stroke="#333333" stroke-width="0.8" />
<text x="244" y="364.5" font-size="14.5" fill="#111" font-weight="bold" text-anchor="middle" stroke="#111" stroke-width="0.12" stroke-linejoin="round" >电网</text>
<g stroke="#0C2A6C" stroke-width="4.5" fill="none" stroke-linejoin="miter">
<polyline points="231,380.5 231,422.5 106.6,422.5 106.6,466"/>
<polyline points="252,380.5 252,422.5 415,422.5 415,466"/>
<polyline points="120,466 120,441.5 202.6,441.5 202.6,466"/>
<polyline points="216.8,466 216.8,441.5 299.4,441.5 299.4,466"/>
<polyline points="313.5,466 313.5,441.5 400.1,441.5 400.1,466"/>
</g>
<polyline points="84.5,417.5 84.5,413.5 88.5,413.5" fill="none" stroke="#C00000" stroke-width="4.6" stroke-linecap="round" stroke-linejoin="round"/><line x1="100.4" y1="413.5" x2="372" y2="413.5" fill="none" stroke="#C00000" stroke-width="4.6" stroke-linecap="round" stroke-dasharray="4.5 9.9"/><line x1="84.5" y1="428.5" x2="84.5" y2="452" fill="none" stroke="#C00000" stroke-width="4.6" stroke-linecap="round" stroke-dasharray="4.5 9.9"/>
<polyline points="379,417.5 379,413.5 375,413.5" fill="none" stroke="#C00000" stroke-width="4.6" stroke-linecap="round" stroke-linejoin="round"/><line x1="379" y1="428.5" x2="379" y2="452" fill="none" stroke="#C00000" stroke-width="4.6" stroke-linecap="round" stroke-dasharray="4.5 9.9"/>
<line x1="190.8" y1="413.5" x2="190.8" y2="452" fill="none" stroke="#C00000" stroke-width="4.6" stroke-linecap="round" stroke-dasharray="4.5 9.9" stroke-dashoffset="-1"/>
<line x1="277.3" y1="413.5" x2="277.3" y2="452" fill="none" stroke="#C00000" stroke-width="4.6" stroke-linecap="round" stroke-dasharray="4.5 9.9" stroke-dashoffset="-1"/>
<polygon points="77.3,450.8 91.7,450.8 84.5,464.6" fill="#C00000" stroke="none" stroke-width="1" />
<polygon points="183.6,450.8 198.0,450.8 190.8,464.6" fill="#C00000" stroke="none" stroke-width="1" />
<polygon points="270.1,450.8 284.5,450.8 277.3,464.6" fill="#C00000" stroke="none" stroke-width="1" />
<polygon points="371.8,450.8 386.2,450.8 379.0,464.6" fill="#C00000" stroke="none" stroke-width="1" />
<g stroke="#0C2A6C" stroke-width="4.5">
<line x1="104.35" y1="422.5" x2="233.25" y2="422.5"/><line x1="249.75" y1="422.5" x2="417.25" y2="422.5"/>
<line x1="117.75" y1="441.5" x2="204.85" y2="441.5"/>
<line x1="214.55" y1="441.5" x2="301.65" y2="441.5"/>
<line x1="311.25" y1="441.5" x2="402.35" y2="441.5"/>
</g>
<text x="97" y="405.5" font-size="13.5" fill="#111" font-weight="bold" text-anchor="start" stroke="#111" stroke-width="0.12" stroke-linejoin="round" >信息流</text>
<text x="221.5" y="439" font-size="13.5" fill="#111" font-weight="bold" text-anchor="start" stroke="#111" stroke-width="0.12" stroke-linejoin="round" >功率流</text>
<polygon points="45.8,511.0 66.0,497.0 136.3,497.0 115.7,511.0" fill="#77B33F" stroke="#333333" stroke-width="0.8" /><polygon points="115.7,511.0 136.3,497.0 136.3,539.8 115.7,554.6" fill="#6FAE35" stroke="#333333" stroke-width="0.8" /><polygon points="45.8,511.0 115.7,511.0 115.7,554.6 45.8,554.6" fill="#D7E4BD" stroke="#333333" stroke-width="0.8" /><text x="80.75" y="538.3" font-size="14" fill="#111" font-weight="bold" text-anchor="middle" stroke="#111" stroke-width="0.12" stroke-linejoin="round" >电池模块</text>
<polygon points="86.6,474.8 99.3,465.2 129.7,465.2 117.4,474.8" fill="#D99694" stroke="#333333" stroke-width="0.8" /><polygon points="117.4,474.8 129.7,465.2 129.7,504.4 117.4,508.0" fill="#D99694" stroke="#333333" stroke-width="0.8" /><polygon points="86.6,474.8 117.4,474.8 117.4,508.0 86.6,508.0" fill="#E6B9B8" stroke="#333333" stroke-width="0.8" /><line x1="86.6" y1="508" x2="117.4" y2="474.8" stroke="#222" stroke-width="0.9"/><polygon points="55.6,474.8 73.8,465.2 99.3,465.2 86.6,474.8" fill="#31859C" stroke="#333333" stroke-width="0.8" /><polygon points="55.6,474.8 86.6,474.8 86.6,508.0 55.6,508.0" fill="#B7DEE8" stroke="#333333" stroke-width="0.8" /><text x="71.1" y="495.4" font-size="11" fill="#111" font-weight="bold" text-anchor="middle" stroke="#111" stroke-width="0.30" stroke-linejoin="round" >CPU</text><text x="90.6" y="488.8" font-size="11" fill="#111" font-weight="bold" text-anchor="start" stroke="#111" stroke-width="0.30" stroke-linejoin="round" >AC</text><text x="114.4" y="504" font-size="11" fill="#111" font-weight="bold" text-anchor="end" stroke="#111" stroke-width="0.30" stroke-linejoin="round" >DC</text>
<polygon points="143.0,511.0 163.2,497.0 233.5,497.0 212.9,511.0" fill="#77B33F" stroke="#333333" stroke-width="0.8" /><polygon points="212.9,511.0 233.5,497.0 233.5,539.8 212.9,554.6" fill="#6FAE35" stroke="#333333" stroke-width="0.8" /><polygon points="143.0,511.0 212.9,511.0 212.9,554.6 143.0,554.6" fill="#D7E4BD" stroke="#333333" stroke-width="0.8" /><text x="177.95" y="538.3" font-size="14" fill="#111" font-weight="bold" text-anchor="middle" stroke="#111" stroke-width="0.12" stroke-linejoin="round" >电池模块</text>
<polygon points="183.8,474.8 196.5,465.2 226.9,465.2 214.6,474.8" fill="#D99694" stroke="#333333" stroke-width="0.8" /><polygon points="214.6,474.8 226.9,465.2 226.9,504.4 214.6,508.0" fill="#D99694" stroke="#333333" stroke-width="0.8" /><polygon points="183.8,474.8 214.6,474.8 214.6,508.0 183.8,508.0" fill="#E6B9B8" stroke="#333333" stroke-width="0.8" /><line x1="183.8" y1="508" x2="214.60000000000002" y2="474.8" stroke="#222" stroke-width="0.9"/><polygon points="152.8,474.8 171.0,465.2 196.5,465.2 183.8,474.8" fill="#31859C" stroke="#333333" stroke-width="0.8" /><polygon points="152.8,474.8 183.8,474.8 183.8,508.0 152.8,508.0" fill="#B7DEE8" stroke="#333333" stroke-width="0.8" /><text x="168.3" y="495.4" font-size="11" fill="#111" font-weight="bold" text-anchor="middle" stroke="#111" stroke-width="0.30" stroke-linejoin="round" >CPU</text><text x="187.8" y="488.8" font-size="11" fill="#111" font-weight="bold" text-anchor="start" stroke="#111" stroke-width="0.30" stroke-linejoin="round" >AC</text><text x="211.60000000000002" y="504" font-size="11" fill="#111" font-weight="bold" text-anchor="end" stroke="#111" stroke-width="0.30" stroke-linejoin="round" >DC</text>
<polygon points="239.6,511.0 259.8,497.0 330.1,497.0 309.5,511.0" fill="#77B33F" stroke="#333333" stroke-width="0.8" /><polygon points="309.5,511.0 330.1,497.0 330.1,539.8 309.5,554.6" fill="#6FAE35" stroke="#333333" stroke-width="0.8" /><polygon points="239.6,511.0 309.5,511.0 309.5,554.6 239.6,554.6" fill="#D7E4BD" stroke="#333333" stroke-width="0.8" /><text x="274.55" y="538.3" font-size="14" fill="#111" font-weight="bold" text-anchor="middle" stroke="#111" stroke-width="0.12" stroke-linejoin="round" >电池模块</text>
<polygon points="280.4,474.8 293.1,465.2 323.5,465.2 311.2,474.8" fill="#D99694" stroke="#333333" stroke-width="0.8" /><polygon points="311.2,474.8 323.5,465.2 323.5,504.4 311.2,508.0" fill="#D99694" stroke="#333333" stroke-width="0.8" /><polygon points="280.4,474.8 311.2,474.8 311.2,508.0 280.4,508.0" fill="#E6B9B8" stroke="#333333" stroke-width="0.8" /><line x1="280.4" y1="508" x2="311.20000000000005" y2="474.8" stroke="#222" stroke-width="0.9"/><polygon points="249.4,474.8 267.6,465.2 293.1,465.2 280.4,474.8" fill="#31859C" stroke="#333333" stroke-width="0.8" /><polygon points="249.4,474.8 280.4,474.8 280.4,508.0 249.4,508.0" fill="#B7DEE8" stroke="#333333" stroke-width="0.8" /><text x="264.9" y="495.4" font-size="11" fill="#111" font-weight="bold" text-anchor="middle" stroke="#111" stroke-width="0.30" stroke-linejoin="round" >CPU</text><text x="284.4" y="488.8" font-size="11" fill="#111" font-weight="bold" text-anchor="start" stroke="#111" stroke-width="0.30" stroke-linejoin="round" >AC</text><text x="308.20000000000005" y="504" font-size="11" fill="#111" font-weight="bold" text-anchor="end" stroke="#111" stroke-width="0.30" stroke-linejoin="round" >DC</text>
<polygon points="336.9,511.0 357.1,497.0 427.4,497.0 406.8,511.0" fill="#77B33F" stroke="#333333" stroke-width="0.8" /><polygon points="406.8,511.0 427.4,497.0 427.4,539.8 406.8,554.6" fill="#6FAE35" stroke="#333333" stroke-width="0.8" /><polygon points="336.9,511.0 406.8,511.0 406.8,554.6 336.9,554.6" fill="#D7E4BD" stroke="#333333" stroke-width="0.8" /><text x="371.85" y="538.3" font-size="14" fill="#111" font-weight="bold" text-anchor="middle" stroke="#111" stroke-width="0.12" stroke-linejoin="round" >电池模块</text>
<polygon points="377.7,474.8 390.4,465.2 420.8,465.2 408.5,474.8" fill="#D99694" stroke="#333333" stroke-width="0.8" /><polygon points="408.5,474.8 420.8,465.2 420.8,504.4 408.5,508.0" fill="#D99694" stroke="#333333" stroke-width="0.8" /><polygon points="377.7,474.8 408.5,474.8 408.5,508.0 377.7,508.0" fill="#E6B9B8" stroke="#333333" stroke-width="0.8" /><line x1="377.70000000000005" y1="508" x2="408.5" y2="474.8" stroke="#222" stroke-width="0.9"/><polygon points="346.7,474.8 364.9,465.2 390.4,465.2 377.7,474.8" fill="#31859C" stroke="#333333" stroke-width="0.8" /><polygon points="346.7,474.8 377.7,474.8 377.7,508.0 346.7,508.0" fill="#B7DEE8" stroke="#333333" stroke-width="0.8" /><text x="362.20000000000005" y="495.4" font-size="11" fill="#111" font-weight="bold" text-anchor="middle" stroke="#111" stroke-width="0.30" stroke-linejoin="round" >CPU</text><text x="381.70000000000005" y="488.8" font-size="11" fill="#111" font-weight="bold" text-anchor="start" stroke="#111" stroke-width="0.30" stroke-linejoin="round" >AC</text><text x="405.5" y="504" font-size="11" fill="#111" font-weight="bold" text-anchor="end" stroke="#111" stroke-width="0.30" stroke-linejoin="round" >DC</text>
<text x="141" y="588" font-size="22" fill="#C00000" font-weight="bold" text-anchor="start" stroke="#C00000" stroke-width="0.53" stroke-linejoin="round" textLength="156.5" lengthAdjust="spacing">面向大容量应用</text>
<polygon points="773.8,347.3 794.0,335.3 863.3,335.3 842.6,347.3" fill="#D99694" stroke="#333333" stroke-width="0.8" /><polygon points="842.6,347.3 863.3,335.3 863.3,375.0 842.6,387.1" fill="#D99694" stroke="#333333" stroke-width="0.8" /><polygon points="773.8,347.3 842.6,347.3 842.6,387.1 773.8,387.1" fill="#E6B9B8" stroke="#333333" stroke-width="0.8" />
<text x="808.2" y="371.5" font-size="15.5" fill="#111" font-weight="bold" text-anchor="middle" stroke="#111" stroke-width="0.30" stroke-linejoin="round" >DC/AC</text>
<polygon points="884.6,347.3 905.0,335.3 973.6,335.3 953.4,347.3" fill="#D99694" stroke="#333333" stroke-width="0.8" /><polygon points="953.4,347.3 973.6,335.3 973.6,375.0 953.4,387.1" fill="#D99694" stroke="#333333" stroke-width="0.8" /><polygon points="884.6,347.3 953.4,347.3 953.4,387.1 884.6,387.1" fill="#E6B9B8" stroke="#333333" stroke-width="0.8" />
<text x="919" y="370.3" font-size="14.5" fill="#111" font-weight="bold" text-anchor="middle" stroke="#111" stroke-width="0.12" stroke-linejoin="round" >电网</text>
<line x1="845" y1="363" x2="884.6" y2="363" stroke="#C00000" stroke-width="4" stroke-linecap="round"/>
<g stroke="#0C2A6C" stroke-width="4.5" fill="none">
<line x1="816.4" y1="387" x2="816.4" y2="469"/>
<polyline points="718.8,469 718.8,427.9 994.3,427.9 994.3,469"/>
<line x1="898.3" y1="427.9" x2="898.3" y2="469"/>
</g>
<polyline points="688.3,420.8 688.3,416.8 692.3,416.8" fill="none" stroke="#C00000" stroke-width="4.6" stroke-linecap="round" stroke-linejoin="round"/><line x1="704.1999999999999" y1="416.8" x2="955" y2="416.8" fill="none" stroke="#C00000" stroke-width="4.6" stroke-linecap="round" stroke-dasharray="4.5 9.9"/><line x1="688.3" y1="431.8" x2="688.3" y2="454" fill="none" stroke="#C00000" stroke-width="4.6" stroke-linecap="round" stroke-dasharray="4.5 9.9"/>
<polyline points="962.8,420.8 962.8,416.8 958.8,416.8" fill="none" stroke="#C00000" stroke-width="4.6" stroke-linecap="round" stroke-linejoin="round"/><line x1="962.8" y1="431.8" x2="962.8" y2="454" fill="none" stroke="#C00000" stroke-width="4.6" stroke-linecap="round" stroke-dasharray="4.5 9.9"/>
<line x1="790.6" y1="403" x2="790.6" y2="454" fill="none" stroke="#C00000" stroke-width="4.6" stroke-linecap="round" stroke-dasharray="4.5 9.9"/>
<line x1="858.3" y1="416.8" x2="858.3" y2="454" fill="none" stroke="#C00000" stroke-width="4.6" stroke-linecap="round" stroke-dasharray="4.5 9.9" stroke-dashoffset="-1"/>
<polygon points="681.3,452.5 695.3,452.5 688.3,466.0" fill="#C00000" stroke="none" stroke-width="1" />
<polygon points="783.6,452.5 797.6,452.5 790.6,466.0" fill="#C00000" stroke="none" stroke-width="1" />
<polygon points="851.3,452.5 865.3,452.5 858.3,466.0" fill="#C00000" stroke="none" stroke-width="1" />
<polygon points="955.8,452.5 969.8,452.5 962.8,466.0" fill="#C00000" stroke="none" stroke-width="1" />
<polygon points="783.6,401.5 797.6,401.5 790.6,388.0" fill="#C00000" stroke="none" stroke-width="1" />
<line x1="716.55" y1="427.9" x2="996.55" y2="427.9" stroke="#0C2A6C" stroke-width="4.5"/>
<text x="729.5" y="411" font-size="13.5" fill="#111" font-weight="bold" text-anchor="start" stroke="#111" stroke-width="0.12" stroke-linejoin="round" >信息流</text>
<text x="729.5" y="446" font-size="13.5" fill="#111" font-weight="bold" text-anchor="start" stroke="#111" stroke-width="0.12" stroke-linejoin="round" >功率流</text>
<polygon points="648.3,511.5 668.0,498.0 736.3,498.0 716.3,511.5" fill="#77B33F" stroke="#333333" stroke-width="0.8" /><polygon points="716.3,511.5 736.3,498.0 736.3,539.3 716.3,552.8" fill="#6FAE35" stroke="#333333" stroke-width="0.8" /><polygon points="648.3,511.5 716.3,511.5 716.3,552.8 648.3,552.8" fill="#D7E4BD" stroke="#333333" stroke-width="0.8" /><text x="682.3" y="537.65" font-size="14" fill="#111" font-weight="bold" text-anchor="middle" stroke="#111" stroke-width="0.12" stroke-linejoin="round" >电池模块</text>
<polygon points="688.5,476.9 701.0,467.6 728.9,467.6 718.7,476.9" fill="#D99694" stroke="#333333" stroke-width="0.8" /><polygon points="718.7,476.9 728.9,467.6 728.9,504.0 718.7,508.7" fill="#D99694" stroke="#333333" stroke-width="0.8" /><polygon points="688.5,476.9 718.7,476.9 718.7,508.7 688.5,508.7" fill="#E6B9B8" stroke="#333333" stroke-width="0.8" /><line x1="688.5" y1="508.7" x2="718.7" y2="476.9" stroke="#222" stroke-width="0.9"/><polygon points="658.5,476.9 676.0,467.6 701.0,467.6 688.5,476.9" fill="#31859C" stroke="#333333" stroke-width="0.8" /><polygon points="658.5,476.9 688.5,476.9 688.5,508.7 658.5,508.7" fill="#B7DEE8" stroke="#333333" stroke-width="0.8" /><text x="673.5" y="496.79999999999995" font-size="11" fill="#111" font-weight="bold" text-anchor="middle" stroke="#111" stroke-width="0.30" stroke-linejoin="round" >CPU</text><text x="692.5" y="490.9" font-size="11" fill="#111" font-weight="bold" text-anchor="start" stroke="#111" stroke-width="0.30" stroke-linejoin="round" >DC</text><text x="715.7" y="504.7" font-size="11" fill="#111" font-weight="bold" text-anchor="end" stroke="#111" stroke-width="0.30" stroke-linejoin="round" >DC</text>
<polygon points="786.7,476.9 800.0,467.6 835.4,467.6 821.5,476.9" fill="#D99694" stroke="#333333" stroke-width="0.8" /><polygon points="821.5,476.9 835.4,467.6 835.4,504.0 821.5,508.7" fill="#D99694" stroke="#333333" stroke-width="0.8" /><polygon points="786.7,476.9 821.5,476.9 821.5,508.7 786.7,508.7" fill="#E6B9B8" stroke="#333333" stroke-width="0.8" /><line x1="786.7" y1="508.7" x2="821.5" y2="476.9" stroke="#222" stroke-width="0.9"/><polygon points="756.7,476.9 774.0,467.6 800.0,467.6 786.7,476.9" fill="#31859C" stroke="#333333" stroke-width="0.8" /><polygon points="756.7,476.9 786.7,476.9 786.7,508.7 756.7,508.7" fill="#B7DEE8" stroke="#333333" stroke-width="0.8" /><text x="771.7" y="496.79999999999995" font-size="11" fill="#111" font-weight="bold" text-anchor="middle" stroke="#111" stroke-width="0.30" stroke-linejoin="round" >CPU</text><text x="790.7" y="490.9" font-size="11" fill="#111" font-weight="bold" text-anchor="start" stroke="#111" stroke-width="0.30" stroke-linejoin="round" >DC</text><text x="818.5" y="504.7" font-size="11" fill="#111" font-weight="bold" text-anchor="end" stroke="#111" stroke-width="0.30" stroke-linejoin="round" >DC</text>
<polygon points="867.2,476.9 880.0,467.6 916.7,467.6 903.3,476.9" fill="#D99694" stroke="#333333" stroke-width="0.8" /><polygon points="903.3,476.9 916.7,467.6 916.7,504.0 903.3,508.7" fill="#D99694" stroke="#333333" stroke-width="0.8" /><polygon points="867.2,476.9 903.3,476.9 903.3,508.7 867.2,508.7" fill="#E6B9B8" stroke="#333333" stroke-width="0.8" /><line x1="867.2" y1="508.7" x2="903.3" y2="476.9" stroke="#222" stroke-width="0.9"/><polygon points="837.6,476.9 855.0,467.6 880.0,467.6 867.2,476.9" fill="#31859C" stroke="#333333" stroke-width="0.8" /><polygon points="837.6,476.9 867.2,476.9 867.2,508.7 837.6,508.7" fill="#B7DEE8" stroke="#333333" stroke-width="0.8" /><text x="852.4000000000001" y="496.79999999999995" font-size="11" fill="#111" font-weight="bold" text-anchor="middle" stroke="#111" stroke-width="0.30" stroke-linejoin="round" >CPU</text><text x="871.2" y="490.9" font-size="11" fill="#111" font-weight="bold" text-anchor="start" stroke="#111" stroke-width="0.30" stroke-linejoin="round" >DC</text><text x="900.3" y="504.7" font-size="11" fill="#111" font-weight="bold" text-anchor="end" stroke="#111" stroke-width="0.30" stroke-linejoin="round" >AC</text>
<polygon points="921.5,511.5 941.0,498.0 1009.3,498.0 988.9,511.5" fill="#77B33F" stroke="#333333" stroke-width="0.8" /><polygon points="988.9,511.5 1009.3,498.0 1009.3,539.3 988.9,552.8" fill="#6FAE35" stroke="#333333" stroke-width="0.8" /><polygon points="921.5,511.5 988.9,511.5 988.9,552.8 921.5,552.8" fill="#D7E4BD" stroke="#333333" stroke-width="0.8" /><text x="955.2" y="537.65" font-size="14" fill="#111" font-weight="bold" text-anchor="middle" stroke="#111" stroke-width="0.12" stroke-linejoin="round" >电池模块</text>
<polygon points="960.7,476.9 973.0,467.6 1001.5,467.6 991.3,476.9" fill="#D99694" stroke="#333333" stroke-width="0.8" /><polygon points="991.3,476.9 1001.5,467.6 1001.5,504.0 991.3,508.7" fill="#D99694" stroke="#333333" stroke-width="0.8" /><polygon points="960.7,476.9 991.3,476.9 991.3,508.7 960.7,508.7" fill="#E6B9B8" stroke="#333333" stroke-width="0.8" /><line x1="960.7" y1="508.7" x2="991.3" y2="476.9" stroke="#222" stroke-width="0.9"/><polygon points="931.1,476.9 949.0,467.6 973.0,467.6 960.7,476.9" fill="#31859C" stroke="#333333" stroke-width="0.8" /><polygon points="931.1,476.9 960.7,476.9 960.7,508.7 931.1,508.7" fill="#B7DEE8" stroke="#333333" stroke-width="0.8" /><text x="945.9000000000001" y="496.79999999999995" font-size="11" fill="#111" font-weight="bold" text-anchor="middle" stroke="#111" stroke-width="0.30" stroke-linejoin="round" >CPU</text><text x="964.7" y="490.9" font-size="11" fill="#111" font-weight="bold" text-anchor="start" stroke="#111" stroke-width="0.30" stroke-linejoin="round" >DC</text><text x="988.3" y="504.7" font-size="11" fill="#111" font-weight="bold" text-anchor="end" stroke="#111" stroke-width="0.30" stroke-linejoin="round" >DC</text>
<line x1="727.5" y1="526.3" x2="747" y2="526.3" stroke="#111" stroke-width="1.8" stroke-dasharray="3 2.6"/>
<path d="M758.5,519 L785,519 Q786,519 786.3,520 L792,535.3 Q792.3,536.3 791.2,536.3 L752,536.3 Q751,536.3 751.3,535.3 L757.2,520 Q757.5,519 758.5,519 Z" fill="#1B95DB"/>
<g stroke="#fff" stroke-width="0.9">
<line x1="757" y1="523.1" x2="786.8" y2="523.1"/><line x1="755.6" y1="528.5" x2="787.9" y2="528.5"/>
<line x1="764.4" y1="519.6" x2="761.6" y2="533.8"/><line x1="771.5" y1="519.6" x2="771.5" y2="533.8"/><line x1="778.2" y1="519.6" x2="780.9" y2="533.8"/>
</g>
<polygon points="768.9,536.0 773.8,536.0 775.5,548.7 767.2,548.7" fill="#1B95DB" stroke="none" stroke-width="1" />
<polyline points="802.9,508.7 802.9,529.8 794,529.8" fill="none" stroke="#0A6CC4" stroke-width="3.8" stroke-linecap="round" stroke-linejoin="round"/>
<polygon points="862.8,525.0 861.1,512.6 859.7,512.6 858.0,525.0" fill="#1B95DB" stroke="#1B95DB" stroke-width="0.8" stroke-linejoin="round"/>
<polygon points="856.2,528.2 843.2,536.3 844.0,537.7 858.2,532.2" fill="#1B95DB" stroke="#1B95DB" stroke-width="0.8" stroke-linejoin="round"/>
<polygon points="862.6,532.2 877.0,538.0 877.8,536.6 864.6,528.2" fill="#1B95DB" stroke="#1B95DB" stroke-width="0.8" stroke-linejoin="round"/>
<circle cx="860.4" cy="528.5" r="4.6" fill="#fff"/>
<circle cx="860.4" cy="528.5" r="3.3" fill="#1B95DB"/>
<polygon points="858.6,533.6 862.2,533.6 863.8,548.7 856.9,548.7" fill="#1B95DB" stroke="none" stroke-width="1" />
<polyline points="884,508.7 884,529.9 874.5,529.9" fill="none" stroke="#0A6CC4" stroke-width="3.8" stroke-linecap="round" stroke-linejoin="round"/>
<text x="755" y="582.8" font-size="20" fill="#C00000" font-weight="bold" text-anchor="start" stroke="#C00000" stroke-width="0.48" stroke-linejoin="round" textLength="140" lengthAdjust="spacing">面向分布式应用</text>
</svg>
</body></html>
